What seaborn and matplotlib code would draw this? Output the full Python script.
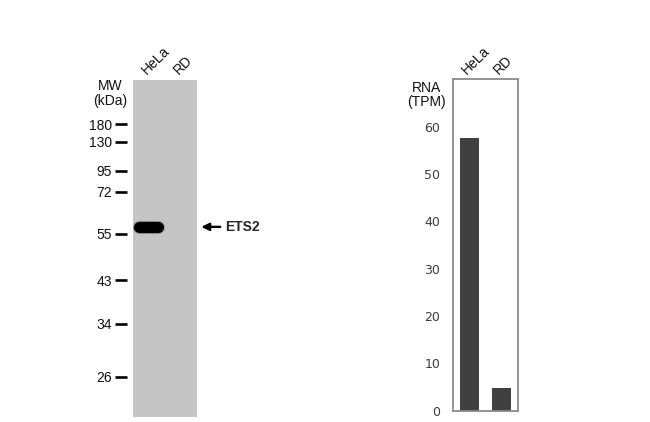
import matplotlib
matplotlib.use("Agg")
import matplotlib.pyplot as plt
import seaborn as sns
import pandas as pd

# western blot: marker ladder (kDa) and where each ran (relative mobility, 0 = top of gel)
lanes = ["HeLa", "RD"]
marker_kda = [180, 130, 95, 72, 55, 43, 34, 26]
marker_rf = [0.132, 0.184, 0.271, 0.333, 0.458, 0.595, 0.724, 0.881]
band_name = "ETS2"
band_rf = 0.437
band_signal = [1.0, 0.0]   # HeLa strong, RD none

# RNA expression (TPM)
rna_lines = ["HeLa", "RD"]
rna_tpm = [57.7, 4.7]

sns.set_theme(style="white")
plt.rcParams["font.family"] = ["Liberation Sans", "DejaVu Sans"]

fig = plt.figure(figsize=(6.5, 4.22), dpi=100)

# ---- blot panel ----
ax = fig.add_axes([0.2042, 0.01256, 0.0985, 0.799])
ax.set_facecolor("#c5c5c5")
ax.set_xlim(0, len(lanes))
ax.set_ylim(1, 0)
for s in ax.spines.values():
    s.set_visible(False)
ax.spines["left"].set_position(("outward", 4.2))
ax.set_xticks([])
ax.set_yticks(marker_rf)
ax.set_yticklabels([str(k) for k in marker_kda], fontsize=10, color="#111111")
ax.tick_params(axis="y", direction="out", length=8.8, width=1.9, pad=2,
               color="black", left=True)

for i, sig in enumerate(band_signal):
    if sig <= 0:
        continue
    xc = i + 0.5
    ax.plot([xc - 0.3, xc + 0.3], [band_rf, band_rf], lw=9.5,
            solid_capstyle="round", color="#222222", alpha=0.3 * sig)
    ax.plot([xc - 0.3, xc + 0.3], [band_rf, band_rf], lw=8,
            solid_capstyle="round", color="black", alpha=sig)

for i, name in enumerate(lanes):
    ax.annotate(name, xy=(i + 0.5, 1), xycoords=("data", "axes fraction"),
                xytext=(-2, 4.5), textcoords="offset pixels", rotation=45,
                rotation_mode="anchor", ha="left", va="baseline",
                fontsize=10, color="#111111")

ax.text(-0.355, 0.9588, "MW\n(kDa)", transform=ax.transAxes, ha="center",
        va="center", fontsize=10, linespacing=1.12, color="#111111")

ax.annotate(band_name, xy=(1.07, band_rf), xycoords=ax.get_yaxis_transform(),
            xytext=(1.45, band_rf), textcoords=ax.get_yaxis_transform(),
            ha="left", va="center", fontsize=10, fontweight="bold",
            arrowprops=dict(arrowstyle="-|>,head_length=0.45,head_width=0.22",
                            lw=1.7, color="black", shrinkA=1.5, shrinkB=0))

# ---- RNA bar panel ----
bx = fig.add_axes([0.6965, 0.02725, 0.1, 0.7848])
df = pd.DataFrame({"line": rna_lines, "tpm": rna_tpm})
sns.barplot(data=df, x="line", y="tpm", color="#404040", saturation=1,
            width=0.6, linewidth=0, ax=bx)
bx.set_ylim(0, 70)
bx.set_xlim(-0.53, 1.5)
bx.set_yticks(range(0, 61, 10))
bx.set_yticklabels([str(v) for v in range(0, 61, 10)], fontsize=9,
                   family="DejaVu Sans", color="#3a3a3a")
bx.tick_params(axis="y", length=0, pad=9)
bx.set_xticks([])
bx.set_xlabel("")
bx.set_ylabel("")
for s in bx.spines.values():
    s.set_visible(True)
    s.set_color("#8a8a8a")
    s.set_linewidth(1.3)

for i, name in enumerate(rna_lines):
    bx.annotate(name, xy=(i, 1), xycoords=("data", "axes fraction"),
                xytext=(-3, 4.5), textcoords="offset pixels", rotation=45,
                rotation_mode="anchor", ha="left", va="baseline",
                fontsize=10, color="#111111")

bx.text(-0.41, 0.9526, "RNA\n(TPM)", transform=bx.transAxes, ha="center",
        va="center", fontsize=10, linespacing=1.02, color="#111111")

fig.savefig("out.png", dpi=100, facecolor="white")
